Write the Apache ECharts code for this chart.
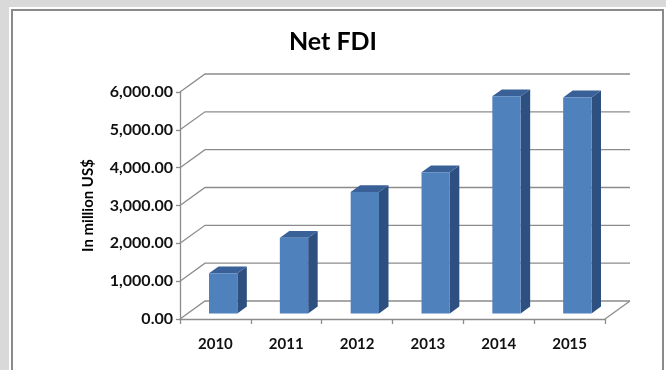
<!DOCTYPE html>
<html>
<head>
<meta charset="utf-8">
<script src="https://cdn.jsdelivr.net/npm/echarts@6/dist/echarts.min.js"></script>
<style>
  html, body { margin: 0; padding: 0; width: 666px; height: 370px; overflow: hidden; background: #d9d9d9; }
  #panel { position: absolute; left: 9px; top: 7px; width: 657px; height: 363px; background: #ffffff; }
  #frame { position: absolute; left: 11px; top: 9px; width: 653px; height: 372px; border: 2px solid #8a8a8a; box-sizing: border-box; }
  #chart { position: absolute; left: 0; top: 0; width: 666px; height: 370px; }
</style>
</head>
<body>
<div id="panel"></div>
<div id="frame"></div>
<div id="chart"></div>
<script>
// Net FDI by year, in million US$
const years = ['2010', '2011', '2012', '2013', '2014', '2015'];
const netFdi = [1060, 2000, 3210, 3730, 5740, 5710];
const yTicks = [0, 1000, 2000, 3000, 4000, 5000, 6000];

// depth of the pseudo-3D box (pixels) and bar placement inside it
const DEPTH_X = 25;
const DEPTH_Y = -18;
const BAR_FRONT = 0.31;
const BAR_BACK = 0.69;
const BAR_WIDTH = 0.4;

const GRID_COLOR = '#8c8c8c';
const FONT = 'Lato';

function fmt(v) {
  const s = Math.round(v).toString().replace(/\B(?=(\d{3})+(?!\d))/g, ',');
  return s + '.00';
}

const chart = echarts.init(document.getElementById('chart'), null, { renderer: 'canvas' });

chart.setOption({
  backgroundColor: 'transparent',
  animation: false,
  title: {
    text: 'Net FDI',
    left: 'center',
    top: 24,
    textStyle: { fontFamily: FONT, fontWeight: 'bold', fontSize: 25, color: '#000' }
  },
  grid: { left: 180, right: 61, top: 92, bottom: 51 },
  xAxis: {
    type: 'category',
    data: years,
    axisLine: { show: true, lineStyle: { color: GRID_COLOR, width: 1.3 } },
    axisTick: { show: true, length: 5, lineStyle: { color: GRID_COLOR, width: 1.3 } },
    axisLabel: { margin: 18, fontFamily: FONT, fontWeight: 'bold', fontSize: 15, color: '#111' },
    splitLine: { show: false }
  },
  yAxis: {
    type: 'value',
    min: 0,
    max: 6000,
    interval: 1000,
    name: 'In million US$',
    nameLocation: 'middle',
    nameGap: 84,
    nameTextStyle: { fontFamily: FONT, fontWeight: 'bold', fontSize: 15, color: '#000' },
    axisLine: { show: true, lineStyle: { color: GRID_COLOR, width: 1.3 } },
    axisTick: { show: true, length: 4, lineStyle: { color: GRID_COLOR, width: 1.3 } },
    axisLabel: { margin: 7, fontFamily: FONT, fontWeight: 'bold', fontSize: 16, color: '#111', formatter: fmt },
    splitLine: { show: false }
  },
  series: [
    {
      // side wall diagonals and back wall gridlines
      type: 'custom',
      z: 1,
      silent: true,
      clip: false,
      data: yTicks.map(v => [0, v]),
      renderItem: function (params, api) {
        const cs = params.coordSys;
        const y = api.coord([0, api.value(1)])[1];
        const x0 = cs.x, x1 = cs.x + cs.width;
        const style = { stroke: GRID_COLOR, lineWidth: 1.3, fill: null };
        const children = [{
          type: 'polyline',
          shape: { points: [[x0, y], [x0 + DEPTH_X, y + DEPTH_Y], [x1 + DEPTH_X, y + DEPTH_Y]] },
          style: style
        }];
        if (api.value(1) === 0) {
          children.push({
            type: 'line',
            shape: { x1: x1, y1: y, x2: x1 + DEPTH_X, y2: y + DEPTH_Y },
            style: style
          });
        }
        return { type: 'group', children: children };
      }
    },
    {
      // extruded bars
      type: 'custom',
      z: 3,
      clip: false,
      data: netFdi.map((v, i) => [i, v]),
      renderItem: function (params, api) {
        const i = api.value(0);
        const base = api.coord([i, 0]);
        const top = api.coord([i, api.value(1)]);
        const w = api.size([1, 0])[0] * BAR_WIDTH;
        const fx = DEPTH_X * BAR_FRONT, fy = DEPTH_Y * BAR_FRONT;
        const bx = DEPTH_X * BAR_BACK, by = DEPTH_Y * BAR_BACK;
        const l = base[0] - w / 2, r = base[0] + w / 2;
        const yb = base[1], yt = top[1];
        return {
          type: 'group',
          children: [
            {
              type: 'polygon',
              shape: { points: [[r + fx, yb + fy], [r + fx, yt + fy], [r + bx, yt + by], [r + bx, yb + by]] },
              style: { fill: '#2d5080' }
            },
            {
              type: 'polygon',
              shape: { points: [[l + fx, yt + fy], [r + fx, yt + fy], [r + bx, yt + by], [l + bx, yt + by]] },
              style: { fill: '#3a6098' }
            },
            {
              type: 'rect',
              shape: { x: l + fx, y: yt + fy, width: w, height: yb - yt },
              style: { fill: '#4f81bd' }
            }
          ]
        };
      }
    }
  ]
});
</script>
</body>
</html>
